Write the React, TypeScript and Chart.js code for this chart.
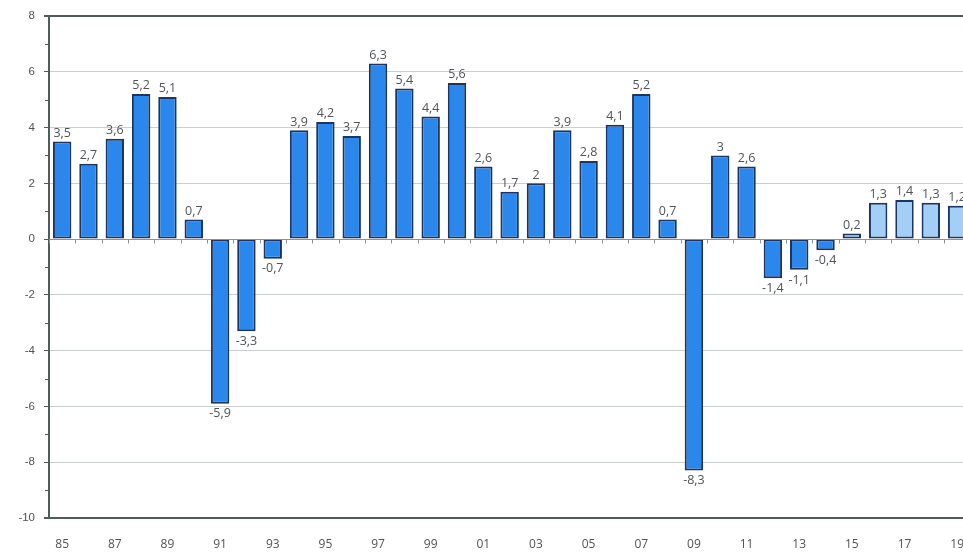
import React, { useEffect, useRef } from "react";
import { Chart, registerables } from "chart.js";

Chart.register(...registerables);

const years = [
  "85", "86", "87", "88", "89", "90", "91", "92", "93", "94", "95", "96",
  "97", "98", "99", "00", "01", "02", "03", "04", "05", "06", "07", "08",
  "09", "10", "11", "12", "13", "14", "15", "16", "17", "18", "19",
];
const growth = [
  3.5, 2.7, 3.6, 5.2, 5.1, 0.7, -5.9, -3.3, -0.7, 3.9, 4.2, 3.7,
  6.3, 5.4, 4.4, 5.6, 2.6, 1.7, 2, 3.9, 2.8, 4.1, 5.2, 0.7,
  -8.3, 3, 2.6, -1.4, -1.1, -0.4, 0.2, 1.3, 1.4, 1.3, 1.2,
];
const forecastFrom = "15";
const yMin = -10;
const yMax = 8;
const yStep = 2;

const DARK_BLUE = "rgb(43,135,235)";
const LIGHT_BLUE = "rgb(163,207,246)";
const BORDER = "#1b3560";
const AXIS = "#4f5c5c";
const GRID = "#c9cece";
const TEXT = "#4e5358";

const decorPlugin = {
  id: "decor",
  afterDatasetsDraw(chart: any) {
    const { ctx, chartArea, scales } = chart;
    const x = scales.x;
    const y = scales.y;
    ctx.save();
    // minor ticks on y axis
    ctx.strokeStyle = AXIS;
    ctx.lineWidth = 1;
    for (let v = yMin + 1; v < yMax; v += 2) {
      const py = Math.round(y.getPixelForValue(v)) + 0.5;
      ctx.beginPath();
      ctx.moveTo(chartArea.left - 4, py);
      ctx.lineTo(chartArea.left, py);
      ctx.stroke();
    }
    // zero line with category ticks
    const y0 = Math.round(y.getPixelForValue(0)) + 0.5;
    ctx.strokeStyle = "#8a9494";
    ctx.beginPath();
    ctx.moveTo(chartArea.left, y0);
    ctx.lineTo(chartArea.right, y0);
    ctx.stroke();
    const n = years.length;
    const band = (x.getPixelForValue(n - 1) - x.getPixelForValue(0)) / (n - 1);
    for (let i = 0; i <= n; i++) {
      const px = Math.round(x.getPixelForValue(i) - band / 2) + 0.5;
      ctx.beginPath();
      ctx.moveTo(px, y0);
      ctx.lineTo(px, y0 + 4);
      ctx.stroke();
    }
    // data labels
    ctx.font = "12.5px 'Open Sans', 'Noto Sans', sans-serif";
    ctx.fillStyle = TEXT;
    ctx.textAlign = "center";
    growth.forEach((v, i) => {
      const px = x.getPixelForValue(i);
      const py = y.getPixelForValue(v);
      const txt = String(v).replace(".", ",");
      if (v >= 0) {
        ctx.textBaseline = "bottom";
        ctx.fillText(txt, px, py - 2);
      } else {
        ctx.textBaseline = "top";
        ctx.fillText(txt, px, py + 4);
      }
    });
    ctx.restore();
  },
};

export default function App() {
  const ref = useRef<HTMLCanvasElement | null>(null);

  useEffect(() => {
    if (!ref.current) return;
    const fIdx = years.indexOf(forecastFrom);
    const chart = new Chart(ref.current, {
      type: "bar",
      data: {
        labels: years,
        datasets: [
          {
            data: growth,
            backgroundColor: growth.map((_, i) => (i >= fIdx ? LIGHT_BLUE : DARK_BLUE)),
            borderColor: BORDER,
            borderWidth: 2,
            borderSkipped: false,
            barPercentage: 0.7,
            categoryPercentage: 1,
          },
        ],
      },
      options: {
        responsive: false,
        animation: false,
        devicePixelRatio: 1,
        layout: { padding: { top: 16, right: 0, left: 0, bottom: 0 } },
        plugins: {
          legend: { display: false },
          tooltip: { enabled: false },
        },
        scales: {
          x: {
            grid: { display: false },
            border: { color: AXIS, width: 2 },
            ticks: {
              autoSkip: false,
              maxRotation: 0,
              padding: 11,
              color: TEXT,
              font: { family: "'Open Sans', 'Noto Sans', sans-serif", size: 12 },
              callback: (_v: any, i: number) => (i % 2 === 0 ? years[i] : ""),
            },
            afterFit: (s: any) => {
              s.height = 34;
            },
          },
          y: {
            min: yMin,
            max: yMax,
            ticks: {
              stepSize: yStep,
              padding: 9,
              color: TEXT,
              font: { family: "'Liberation Sans', sans-serif", size: 11.5 },
            },
            grid: {
              color: (c: any) => (c.tick && (c.tick.value === yMax || c.tick.value === yMin) ? AXIS : GRID),
              lineWidth: (c: any) => (c.tick && (c.tick.value === yMax || c.tick.value === yMin) ? 2 : 1),
              tickColor: AXIS,
              tickLength: 5,
            },
            border: { color: AXIS, width: 2 },
            afterFit: (s: any) => {
              s.width = 49;
            },
          },
        },
      },
      plugins: [decorPlugin],
    });
    return () => chart.destroy();
  }, []);

  return (
    <div
      style={{
        position: "absolute",
        left: 0,
        top: 0,
        width: 963,
        height: 552,
        overflow: "hidden",
        background: "#fff",
      }}
    >
      <canvas ref={ref} width={975} height={552} style={{ display: "block" }} />
    </div>
  );
}
